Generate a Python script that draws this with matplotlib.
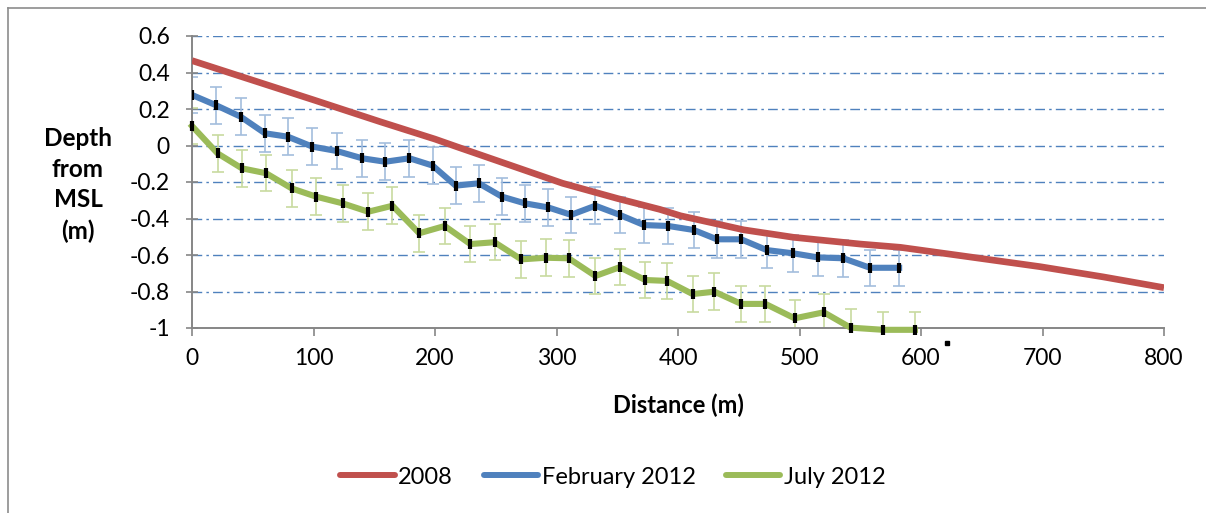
import matplotlib
matplotlib.use("Agg")
import matplotlib.pyplot as plt
from matplotlib.lines import Line2D

plt.rcParams["font.family"] = ["Lato", "DejaVu Sans"]

# 2008 profile (smooth survey line)
dist_2008 = [0, 100, 155, 200, 218, 305, 350, 385, 402, 454, 495, 550, 583, 632, 698, 750, 800]
depth_2008 = [0.465, 0.25, 0.13, 0.035, -0.007, -0.207, -0.29, -0.35, -0.385, -0.462,
              -0.503, -0.54, -0.558, -0.603, -0.664, -0.72, -0.779]

# February 2012 transect
dist_feb = [0, 20, 40, 60, 79, 99, 119, 140, 159, 179, 198, 217, 236, 255, 274,
            293, 312, 332, 352, 372, 392, 413, 432, 452, 473, 495, 515, 536, 558, 582]
depth_feb = [0.277, 0.22, 0.158, 0.067, 0.048, -0.006, -0.03, -0.07, -0.089, -0.07,
             -0.11, -0.22, -0.207, -0.28, -0.317, -0.339, -0.38, -0.33, -0.38, -0.436,
             -0.441, -0.463, -0.514, -0.514, -0.573, -0.591, -0.613, -0.618, -0.67, -0.67]

# July 2012 transect (last point sits below the axis minimum)
dist_jul = [0, 21, 41, 61, 82, 102, 124, 145, 165, 187, 208, 229, 249, 271, 291,
            310, 332, 352, 373, 391, 412, 430, 452, 472, 496, 520, 542, 569, 595, 621]
depth_jul = [0.107, -0.043, -0.125, -0.152, -0.235, -0.28, -0.317, -0.363, -0.33, -0.481,
             -0.441, -0.54, -0.53, -0.624, -0.615, -0.618, -0.715, -0.667, -0.737, -0.742,
             -0.814, -0.801, -0.868, -0.868, -0.947, -0.914, -0.998, -1.01, -1.01, -1.08]

err = 0.1
labels = ["2008", "February 2012", "July 2012"]
RED, BLUE, GREEN = "#C0504D", "#4F81BD", "#9BBB59"
BLUE_ERR, GREEN_ERR = "#A3BDDD", "#C8DAA0"

W, H = 1206, 513
fig = plt.figure(figsize=(W / 100, H / 100), dpi=100)
ax = fig.add_axes([192 / W, 1 - 328 / H, (1164 - 192) / W, (328 - 36) / H])

# outer chart frame: only the left and top edges fall inside the image
fx, fy = 7.5 / W, 1 - 7.5 / H
fig.lines.append(Line2D([fx, fx], [0, fy], transform=fig.transFigure, color="#8C8C8C", lw=1.2))
fig.lines.append(Line2D([fx, 1], [fy, fy], transform=fig.transFigure, color="#8C8C8C", lw=1.2))

for y in [0.6, 0.4, 0.2, 0, -0.2, -0.4, -0.6, -0.8]:
    ax.axhline(y, color="#4F81BD", lw=1.0, linestyle=(0, (7, 3, 1.8, 3)), zorder=1)

ax.plot(dist_2008, depth_2008, color=RED, lw=4.8, solid_capstyle="butt", zorder=3)

ax.errorbar(dist_feb, depth_feb, yerr=err, fmt="none", ecolor=BLUE_ERR, elinewidth=1.2,
            capsize=4.5, capthick=1.2, zorder=2)
ax.plot(dist_feb, depth_feb, color=BLUE, lw=4.4, zorder=4)
ax.plot(dist_feb, depth_feb, ls="none", marker="|", ms=7, mew=3, color="black", zorder=5)

n = len(dist_jul) - 1
ax.errorbar(dist_jul[:n], depth_jul[:n], yerr=err, fmt="none", ecolor=GREEN_ERR, elinewidth=1.2,
            capsize=4.5, capthick=1.2, zorder=2)
ax.plot(dist_jul[:n], depth_jul[:n], color=GREEN, lw=4.4, zorder=4, clip_on=False)
ax.plot(dist_jul[:n], depth_jul[:n], ls="none", marker="|", ms=7, mew=3, color="black",
        zorder=5, clip_on=False)
ax.plot(dist_jul[n:], depth_jul[n:], ls="none", marker="s", ms=2.5, color="black",
        zorder=5, clip_on=False)

ax.set_xlim(0, 800)
ax.set_ylim(-1, 0.6)
ax.set_xticks(range(0, 801, 100))
ax.set_yticks([0.6, 0.4, 0.2, 0, -0.2, -0.4, -0.6, -0.8, -1])
ax.set_yticklabels(["0.6", "0.4", "0.2", "0", "-0.2", "-0.4", "-0.6", "-0.8", "-1"])

for side in ("top", "right"):
    ax.spines[side].set_visible(False)
for side in ("left", "bottom"):
    ax.spines[side].set_color("#868686")
    ax.spines[side].set_linewidth(1.4)
ax.tick_params(axis="y", direction="inout", length=9, width=1.2, color="#868686",
               labelsize=16.5, pad=11.5)
ax.tick_params(axis="x", direction="out", length=6, width=1.2, color="#868686",
               labelsize=16.5, pad=8.5)

fig.text(678 / W, 1 - 405 / H, "Distance (m)", ha="center", va="center",
         fontsize=17, fontweight="bold")
fig.text(78 / W, 1 - 185 / H, "Depth\nfrom\nMSL\n(m)", ha="center", va="center",
         fontsize=17.5, fontweight="bold", linespacing=1.4)

handles = [Line2D([], [], color=c, lw=4.3, solid_capstyle="round") for c in (RED, BLUE, GREEN)]
fig.legend(handles, labels, loc="center", bbox_to_anchor=(613 / W, 1 - 477 / H), ncol=3,
           frameon=False, fontsize=17, handlelength=2.3, handletextpad=0.15, columnspacing=1.3)

fig.savefig("out.png", dpi=100)
